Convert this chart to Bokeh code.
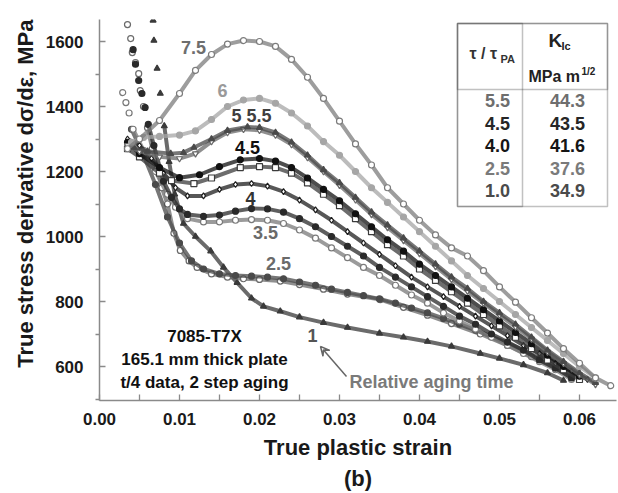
from bokeh.plotting import figure
from bokeh.models import Label, Arrow, VeeHead, Range1d, FixedTicker, NumeralTickFormatter, BoxAnnotation, Title
from bokeh.embed import file_html
from bokeh.resources import INLINE

FONT = "Liberation Sans"

# ---------------- data ----------------
# relative aging time 7.5
strain_75 = [0.0035, 0.005, 0.0075, 0.010, 0.012, 0.014, 0.016, 0.018, 0.020, 0.022, 0.024, 0.026, 0.028, 0.030,
             0.032, 0.034, 0.036, 0.038, 0.040, 0.042, 0.044, 0.046, 0.048, 0.050, 0.052, 0.054, 0.056, 0.058,
             0.060, 0.062, 0.0639]
dsde_75 = [1270, 1300, 1357, 1440, 1511, 1560, 1592, 1603, 1600, 1585, 1545, 1490, 1425, 1355,
           1285, 1220, 1150, 1100, 1050, 1005, 965, 940, 895, 845, 798, 750, 703, 655,
           610, 565, 541]
# 6
strain_6 = [0.004, 0.0055, 0.0075, 0.010, 0.012, 0.014, 0.016, 0.018, 0.020, 0.022, 0.024, 0.026, 0.028, 0.030,
            0.032, 0.034, 0.036, 0.038, 0.040, 0.042, 0.044, 0.046, 0.048, 0.050, 0.052, 0.054, 0.056, 0.058,
            0.060, 0.062]
dsde_6 = [1290, 1305, 1308, 1312, 1325, 1360, 1400, 1420, 1425, 1410, 1380, 1340, 1292, 1250,
          1200, 1150, 1105, 1060, 1015, 970, 925, 880, 840, 800, 760, 720, 680, 640,
          600, 565]
# 5.5
strain_55 = [0.0043, 0.006, 0.0089, 0.0105, 0.0118, 0.014, 0.016, 0.0185, 0.020, 0.022, 0.024, 0.026, 0.028,
             0.030, 0.032, 0.034, 0.036, 0.038, 0.040, 0.042, 0.044, 0.046, 0.048, 0.050, 0.052, 0.054,
             0.056, 0.058, 0.060, 0.062]
dsde_55 = [1274, 1262, 1255, 1258, 1274, 1300, 1326, 1337, 1335, 1320, 1290, 1250, 1205,
           1165, 1120, 1075, 1035, 995, 955, 915, 875, 840, 800, 765, 730, 690,
           650, 615, 580, 550]
# 5
strain_5 = [0.0035, 0.005, 0.0075, 0.010, 0.012, 0.014, 0.016, 0.018, 0.020, 0.022, 0.024, 0.026, 0.028,
            0.030, 0.032, 0.034, 0.036, 0.038, 0.040, 0.042, 0.044, 0.046, 0.048, 0.050, 0.052, 0.054,
            0.056, 0.058, 0.060, 0.062]
dsde_5 = [1280, 1262, 1245, 1240, 1255, 1292, 1320, 1330, 1327, 1312, 1283, 1243, 1200,
          1158, 1113, 1068, 1028, 988, 948, 908, 868, 832, 795, 758, 722, 685,
          645, 610, 575, 545]
# 4.5 (filled)
strain_45 = [0.0035, 0.005, 0.0075, 0.010, 0.0125, 0.015, 0.0176, 0.020, 0.022, 0.024, 0.026, 0.028, 0.030,
             0.032, 0.034, 0.036, 0.038, 0.040, 0.042, 0.044, 0.046, 0.048, 0.050, 0.052, 0.054, 0.056,
             0.058, 0.060]
dsde_45 = [1290, 1255, 1212, 1181, 1190, 1215, 1236, 1240, 1232, 1212, 1180, 1145, 1110,
           1070, 1030, 990, 955, 915, 880, 845, 810, 775, 740, 705, 670, 635,
           600, 570]
# 4.5 (open squares)
strain_45b = [0.0035, 0.005, 0.0075, 0.009, 0.0118, 0.014, 0.0176, 0.020, 0.022, 0.024, 0.026, 0.028, 0.030,
              0.032, 0.034, 0.036, 0.038, 0.040, 0.042, 0.044, 0.046, 0.048, 0.050, 0.052, 0.054, 0.056,
              0.058, 0.060]
dsde_45b = [1270, 1245, 1195, 1172, 1163, 1180, 1212, 1215, 1212, 1195, 1165, 1130, 1095,
            1055, 1015, 975, 940, 900, 865, 830, 795, 760, 725, 690, 655, 620,
            590, 560]
# 4
strain_4 = [0.0035, 0.005, 0.0065, 0.008, 0.0095, 0.011, 0.013, 0.015, 0.017, 0.019, 0.021, 0.023, 0.025,
            0.027, 0.029, 0.031, 0.033, 0.035, 0.037, 0.039, 0.041, 0.043, 0.045, 0.047, 0.049, 0.051,
            0.053, 0.055, 0.057, 0.059, 0.061]
dsde_4 = [1300, 1280, 1240, 1195, 1150, 1125, 1125, 1145, 1160, 1163, 1155, 1138, 1112,
          1082, 1050, 1015, 980, 945, 910, 875, 845, 815, 785, 755, 725, 695,
          665, 640, 610, 585, 560]
# 3.5 (filled): sparse steep start, then dense part
strain_35_start = [0.0042, 0.0045, 0.0049, 0.0053, 0.0057]
dsde_35_start = [1575, 1530, 1480, 1440, 1397]
strain_35 = [0.0061, 0.0068, 0.008, 0.009, 0.010, 0.011, 0.013, 0.015, 0.017,
             0.019, 0.021, 0.023, 0.025, 0.027, 0.029, 0.031, 0.033, 0.035, 0.037, 0.039, 0.041, 0.043,
             0.045, 0.047, 0.049, 0.051, 0.053, 0.055, 0.057, 0.059]
dsde_35 = [1345, 1280, 1170, 1120, 1085, 1068, 1062, 1066, 1078,
           1086, 1085, 1075, 1055, 1030, 1000, 970, 940, 905, 875, 845, 815, 785,
           755, 730, 700, 675, 650, 620, 595, 565]
# 3.5 (open)
strain_35b_start = [0.0029, 0.0033, 0.0037]
dsde_35b_start = [1443, 1412, 1380]
strain_35b = [0.0042, 0.0055, 0.007, 0.0085, 0.0095, 0.011, 0.013, 0.015, 0.017,
              0.019, 0.021, 0.023, 0.025, 0.027, 0.029, 0.031, 0.033, 0.035, 0.037, 0.039, 0.041, 0.043,
              0.045, 0.047, 0.049, 0.051, 0.053, 0.055, 0.057, 0.059]
dsde_35b = [1330, 1265, 1200, 1130, 1090, 1055, 1045, 1045, 1050,
            1052, 1050, 1040, 1020, 995, 965, 935, 905, 880, 850, 820, 795, 765,
            740, 715, 690, 665, 640, 615, 590, 560]
# 2.5 (filled)
strain_25 = [0.004, 0.0055, 0.007, 0.0085, 0.010, 0.0115, 0.013, 0.015, 0.017, 0.019, 0.021, 0.023, 0.025,
             0.027, 0.029, 0.031, 0.033, 0.035, 0.037, 0.039, 0.041, 0.043, 0.045, 0.047, 0.049, 0.051,
             0.053, 0.055, 0.057, 0.059]
dsde_25 = [1330, 1250, 1160, 1060, 980, 925, 900, 885, 880, 878, 875, 870, 860,
           850, 838, 828, 818, 808, 795, 780, 765, 748, 730, 712, 692, 672,
           650, 625, 600, 570]
# 2.5 (open)
strain_25b_start = [0.0035, 0.0039, 0.0041, 0.0045, 0.0049, 0.0051, 0.0055]
dsde_25b_start = [1652, 1609, 1566, 1535, 1501, 1449, 1400]
strain_25b = [0.006, 0.0066, 0.0072, 0.0078, 0.0085,
              0.0093, 0.0101, 0.0112, 0.0122, 0.014, 0.016, 0.018, 0.020, 0.0226, 0.025, 0.028, 0.031, 0.0351,
              0.038, 0.041, 0.044, 0.0476, 0.051, 0.054, 0.057, 0.059]
dsde_25b = [1335, 1270, 1210, 1150, 1100,
            1010, 957, 925, 905, 885, 875, 870, 868, 863, 852, 838, 823, 806,
            782, 758, 732, 700, 665, 630, 595, 566]
# 1
strain_1_start = [0.0067, 0.0068, 0.0072, 0.0076]
dsde_1_start = [1665, 1603, 1517, 1440]
strain_1 = [0.0081, 0.0087, 0.0094, 0.0105, 0.012, 0.0139, 0.0155, 0.0172, 0.019, 0.0205,
            0.0226, 0.025, 0.028, 0.031, 0.035, 0.038, 0.041, 0.044, 0.0476, 0.050, 0.053, 0.056, 0.058]
dsde_1 = [1340, 1230, 1130, 1040, 1000, 955, 905, 858, 810, 785,
          770, 752, 735, 720, 702, 690, 677, 662, 640, 625, 605, 580, 557]

curve_labels = ["7.5", "6", "5 5.5", "4.5", "4", "3.5", "2.5", "1"]

# table
tau_ratio = ["5.5", "4.5", "4.0", "2.5", "1.0"]
k_ic = ["44.3", "43.5", "41.6", "37.6", "34.9"]

x_ticks = [0.00, 0.01, 0.02, 0.03, 0.04, 0.05, 0.06]
x_minor = [0.005, 0.015, 0.025, 0.035, 0.045, 0.055, 0.065]
y_ticks = [600, 800, 1000, 1200, 1400, 1600]
y_minor = [500, 700, 900, 1100, 1300, 1500, 1700]

# ---------------- layout ----------------
W, H = 618, 493
LEFT, RIGHT, TOP, BOTTOM = 99, 2, 19, 93
X0, X1 = 0.0, (W - RIGHT - LEFT) / 8000.0
Y0, Y1 = 600 - (400 - 366) * 200 / 65.0, 1600 + (41 - 19) * 200 / 65.0

def px2x(px):
    return X0 + (px - LEFT) / (W - RIGHT - LEFT) * (X1 - X0)

def py2y(py):
    return Y1 - (py - TOP) / (H - BOTTOM - TOP) * (Y1 - Y0)

p = figure(width=W, height=H, output_backend="svg", toolbar_location=None,
           x_range=Range1d(X0, X1), y_range=Range1d(Y0, Y1),
           min_border_left=LEFT, min_border_right=RIGHT, min_border_top=TOP, min_border_bottom=BOTTOM)
p.outline_line_color = None
p.xgrid.visible = False
p.ygrid.visible = False
p.background_fill_color = "white"
p.border_fill_color = "white"

AX = "#8a8a8a"
for ax in (p.xaxis[0], p.yaxis[0]):
    ax.axis_line_color = AX
    ax.axis_line_width = 1.5
    ax.major_tick_line_color = AX
    ax.minor_tick_line_color = AX
    ax.major_tick_line_width = 1.3
    ax.minor_tick_line_width = 1.3
    ax.major_label_text_font = FONT
    ax.major_label_text_font_style = "bold"
    ax.major_label_text_font_size = "17px"
    ax.major_label_text_color = "#1a1a1a"
    ax.axis_label_text_font = FONT
    ax.axis_label_text_font_style = "bold"
    ax.axis_label_text_font_size = "22px"
    ax.axis_label_text_color = "#1a1a1a"

p.xaxis.ticker = FixedTicker(ticks=x_ticks, minor_ticks=x_minor)
p.yaxis.ticker = FixedTicker(ticks=y_ticks, minor_ticks=y_minor)
p.xaxis.formatter = NumeralTickFormatter(format="0.00")
p.yaxis.formatter = NumeralTickFormatter(format="0")
p.xaxis.major_tick_in = 6
p.xaxis.major_tick_out = 0
p.xaxis.minor_tick_in = 6
p.xaxis.minor_tick_out = 0
p.yaxis.major_tick_in = 6
p.yaxis.major_tick_out = 0
p.yaxis.minor_tick_in = 0
p.yaxis.minor_tick_out = 4
p.xaxis.major_label_standoff = 12
p.yaxis.major_label_standoff = 12
p.xaxis.axis_label = "True plastic strain\n(b)"
p.xaxis.axis_label_standoff = 7
p.xaxis.axis_label_text_line_height = 1.25

ytitle = Title(text="True stress derivative dσ/dε, MPa", align="right", offset=0, standoff=10,
               text_font=FONT, text_font_style="bold", text_font_size="22px", text_color="#1a1a1a")
p.add_layout(ytitle, "left")

# ---------------- curves ----------------
curves = [
    (strain_1, dsde_1, strain_1_start, dsde_1_start, "#3a3a3a", "triangle", True),
    (strain_25b, dsde_25b, strain_25b_start, dsde_25b_start, "#6a6a6a", "circle", False),
    (strain_25, dsde_25, [], [], "#4a4a4a", "circle", True),
    (strain_35b, dsde_35b, strain_35b_start, dsde_35b_start, "#7a7a7a", "circle", False),
    (strain_35, dsde_35, strain_35_start, dsde_35_start, "#2a2a2a", "circle", True),
    (strain_4, dsde_4, [], [], "#1f1f1f", "diamond", False),
    (strain_45b, dsde_45b, [], [], "#3c3c3c", "square", False),
    (strain_45, dsde_45, [], [], "#111111", "circle", True),
    (strain_5, dsde_5, [], [], "#6a6a6a", "inverted_triangle", False),
    (strain_55, dsde_55, [], [], "#4a4a4a", "triangle", True),
    (strain_6, dsde_6, [], [], "#a6a6a6", "circle", True),
    (strain_75, dsde_75, [], [], "#7c7c7c", "circle", False),
]
for xs, ys, sx, sy, col, mk, filled in curves:
    p.line(xs, ys, line_color=col, line_width=4, line_alpha=0.75)
    p.scatter(xs, ys, marker=mk, size=6, line_color=col, line_width=1.2,
              fill_color=col if filled else "white")
    if sx:
        p.scatter(sx, sy, marker=mk, size=6, line_color=col, line_width=1.2,
                  fill_color=col if filled else "white")

# ---------------- curve labels ----------------
lab_pos = [(193, 47, "#6e6e6e"), (222, 90, "#9a9a9a"), (251, 115, "#404040"), (247, 147, "#111111"),
           (250, 198, "#333333"), (265, 232, "#6a6a6a"), (278, 263, "#6a6a6a"), (312, 335, "#555555")]
for txt, (lx, ly, c) in zip(curve_labels, lab_pos):
    p.add_layout(Label(x=px2x(lx), y=py2y(ly), text=txt, text_align="center", text_baseline="middle",
                       text_font=FONT, text_font_style="bold", text_font_size="18px", text_color=c))

# ---------------- notes ----------------
notes = ["7085-T7X", "165.1 mm thick plate", "t/4 data, 2 step aging"]
for i, t in enumerate(notes):
    p.add_layout(Label(x=px2x(204), y=py2y(336 + 23 * i), text=t, text_align="center", text_baseline="middle",
                       text_font=FONT, text_font_style="bold", text_font_size="17px", text_color="#111111"))

p.add_layout(Label(x=px2x(349), y=py2y(381), text="Relative aging time", text_align="left",
                   text_baseline="middle", text_font=FONT, text_font_style="bold", text_font_size="18px",
                   text_color="#7a7a7a"))
p.add_layout(Arrow(x_start=px2x(346), y_start=py2y(376), x_end=px2x(320), y_end=py2y(346),
                   line_color="#666666", line_width=1.5,
                   end=VeeHead(size=9, line_color="#666666", line_width=1.5, fill_color=None)))

# ---------------- table ----------------
TL, TR, TT, TB, TV, TH = 457, 607, 23, 206, 522, 89
p.add_layout(BoxAnnotation(left=px2x(TL), right=px2x(TR), top=py2y(TT), bottom=py2y(TB),
                           fill_color="white", fill_alpha=1, line_color="#333333", line_width=1.5))
p.add_layout(BoxAnnotation(left=px2x(TL), right=px2x(TV), top=py2y(TT), bottom=py2y(TB),
                           fill_alpha=0, line_color="#333333", line_width=1.5))
p.add_layout(BoxAnnotation(left=px2x(TL), right=px2x(TR), top=py2y(TT), bottom=py2y(TH),
                           fill_alpha=0, line_color="#333333", line_width=1.5))

def tlabel(px, py, text, size, align="left", color="#222222", baseline="middle"):
    p.add_layout(Label(x=px2x(px), y=py2y(py), text=text, text_align=align, text_baseline=baseline,
                       text_font=FONT, text_font_style="bold", text_font_size=size, text_color=color))

tlabel(469, 53, "τ / τ", "16px", color="#333333")
tlabel(500, 58, "PA", "11px", color="#333333")
tlabel(548, 40, "K", "19px")
tlabel(561, 45, "Ic", "11px")
tlabel(528, 76, "MPa m", "16px")
tlabel(581, 71, "1/2", "10px")

row_colors = ["#6e6e6e", "#262626", "#151515", "#7a7a7a", "#4a4a4a"]
for i, (a, b) in enumerate(zip(tau_ratio, k_ic)):
    yy = 100 + 22.5 * i
    tlabel(497, yy, a, "18px", align="center", color=row_colors[i])
    tlabel(567, yy, b, "18px", align="center", color=row_colors[i])

open("out.html", "w").write(file_html(p, INLINE))
